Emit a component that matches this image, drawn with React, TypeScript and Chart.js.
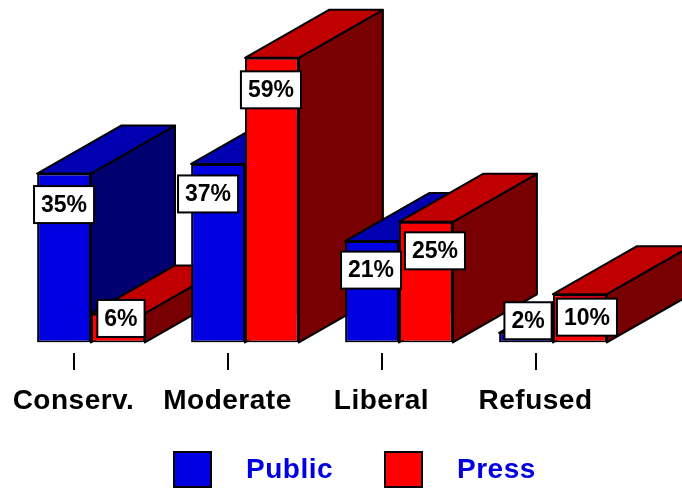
import React, { useEffect, useRef } from "react";
import { Chart, registerables } from "chart.js";

Chart.register(...registerables);

const categories = ["Conserv.", "Moderate", "Liberal", "Refused"];
const publicValues = [35, 37, 21, 2];
const pressValues = [6, 59, 25, 10];
const seriesNames = ["Public", "Press"];

// Hand placement of the value boxes relative to each bar's top centre: [dx, dy] of box centre
const publicNudges = [[0, 31], [-10, 30], [-1, 29], [2, -12]];
const pressNudges = [[3, 5], [-1, 32], [9, 29], [7, 23]];

const FONT = '"Liberation Sans", Arial, sans-serif';
const DEPTH_X = 84;
const DEPTH_Y = 48;
const TICK_SHIFT = 17.5;
const SPACING = "0.5px";
const faces = [
  { front: "#0000e0", top: "#0000b0", side: "#000070" },
  { front: "#ff0000", top: "#c00000", side: "#780000" },
];

function poly(ctx: CanvasRenderingContext2D, pts: number[][], fill: string) {
  ctx.beginPath();
  pts.forEach(([x, y], i) => (i ? ctx.lineTo(x, y) : ctx.moveTo(x, y)));
  ctx.closePath();
  ctx.fillStyle = fill;
  ctx.fill();
  ctx.lineWidth = 2;
  ctx.strokeStyle = "#000";
  ctx.lineJoin = "round";
  ctx.stroke();
}

const bars3d = {
  id: "bars3d",
  beforeDraw(chart: any) {
    (chart.ctx as any).letterSpacing = SPACING;
  },
  beforeDatasetsDraw(chart: any) {
    const ctx = chart.ctx;
    ctx.save();
    for (let c = 0; c < categories.length; c++) {
      for (let d = 0; d < 2; d++) {
        const el = chart.getDatasetMeta(d).data[c];
        const x0 = el.x - el.width / 2;
        const x1 = el.x + el.width / 2;
        const top = el.y;
        const base = el.base;
        poly(ctx, [[x1, top], [x1 + DEPTH_X, top - DEPTH_Y], [x1 + DEPTH_X, base - DEPTH_Y], [x1, base]], faces[d].side);
        poly(ctx, [[x0, top], [x1, top], [x1 + DEPTH_X, top - DEPTH_Y], [x0 + DEPTH_X, top - DEPTH_Y]], faces[d].top);
      }
    }
    ctx.restore();
  },
  afterDatasetsDraw(chart: any) {
    const ctx = chart.ctx;
    ctx.save();
    // value boxes
    ctx.letterSpacing = "0px";
    ctx.font = `bold 23px ${FONT}`;
    ctx.textAlign = "center";
    ctx.textBaseline = "middle";
    chart.data.datasets.forEach((ds: any, d: number) => {
      const nudges = d === 0 ? publicNudges : pressNudges;
      chart.getDatasetMeta(d).data.forEach((el: any, c: number) => {
        const label = `${ds.data[c]}%`;
        const w = ctx.measureText(label).width + 14;
        const h = 37;
        const cx = el.x + nudges[c][0];
        const cy = el.y + nudges[c][1];
        ctx.fillStyle = "#fff";
        ctx.strokeStyle = "#000";
        ctx.lineWidth = 2;
        ctx.fillRect(cx - w / 2, cy - h / 2, w, h);
        ctx.strokeRect(cx - w / 2, cy - h / 2, w, h);
        ctx.fillStyle = "#000";
        ctx.fillText(label, cx, cy + 1);
      });
    });
    // axis tick marks
    const xs = chart.scales.x;
    ctx.strokeStyle = "#000";
    ctx.lineWidth = 2;
    categories.forEach((_, i) => {
      const x = Math.round(xs.getPixelForTick(i) - TICK_SHIFT);
      ctx.beginPath();
      ctx.moveTo(x, 353);
      ctx.lineTo(x, 370);
      ctx.stroke();
    });
    // legend
    const swatchX = [174, 385];
    const textX = [246, 457];
    ctx.letterSpacing = SPACING;
    chart.data.datasets.forEach((ds: any, d: number) => {
      ctx.fillStyle = faces[d].front;
      ctx.fillRect(swatchX[d], 452, 37, 35);
      ctx.strokeStyle = "#000";
      ctx.strokeRect(swatchX[d], 452, 37, 35);
      ctx.fillStyle = "#0000e0";
      ctx.font = `bold 28px ${FONT}`;
      ctx.textAlign = "left";
      ctx.fillText(ds.label, textX[d], 470);
    });
    ctx.restore();
  },
};

export default function App() {
  const ref = useRef<HTMLCanvasElement>(null);
  useEffect(() => {
    const chart = new Chart(ref.current!, {
      type: "bar",
      data: {
        labels: categories,
        datasets: [
          { label: seriesNames[0], data: publicValues, backgroundColor: faces[0].front, borderColor: "#000", borderWidth: 2, borderSkipped: false },
          { label: seriesNames[1], data: pressValues, backgroundColor: faces[1].front, borderColor: "#000", borderWidth: 2, borderSkipped: false },
        ],
      },
      options: {
        responsive: false,
        animation: false,
        layout: { padding: { left: 14, right: 52, top: 53, bottom: 36 } },
        plugins: { legend: { display: false }, tooltip: { enabled: false } },
        scales: {
          x: {
            grid: { display: false },
            border: { display: false },
            afterFit(scale: any) {
              scale.paddingLeft = 0;
              scale.paddingRight = 0;
            },
            ticks: {
              color: "#000",
              padding: 34,
              autoSkip: false,
              maxRotation: 0,
              labelOffset: -TICK_SHIFT,
              font: { family: FONT, size: 28, weight: "bold" },
            },
          } as any,
          y: { display: false, min: 0, max: 60 },
        },
        datasets: { bar: { categoryPercentage: 0.7, barPercentage: 1 } },
      } as any,
      plugins: [bars3d],
    });
    return () => chart.destroy();
  }, []);
  return (
    <div style={{ position: "absolute", left: 0, top: 0, width: 682, height: 488, background: "#fff" }}>
      <canvas ref={ref} width={682} height={488} style={{ display: "block" }} />
    </div>
  );
}
